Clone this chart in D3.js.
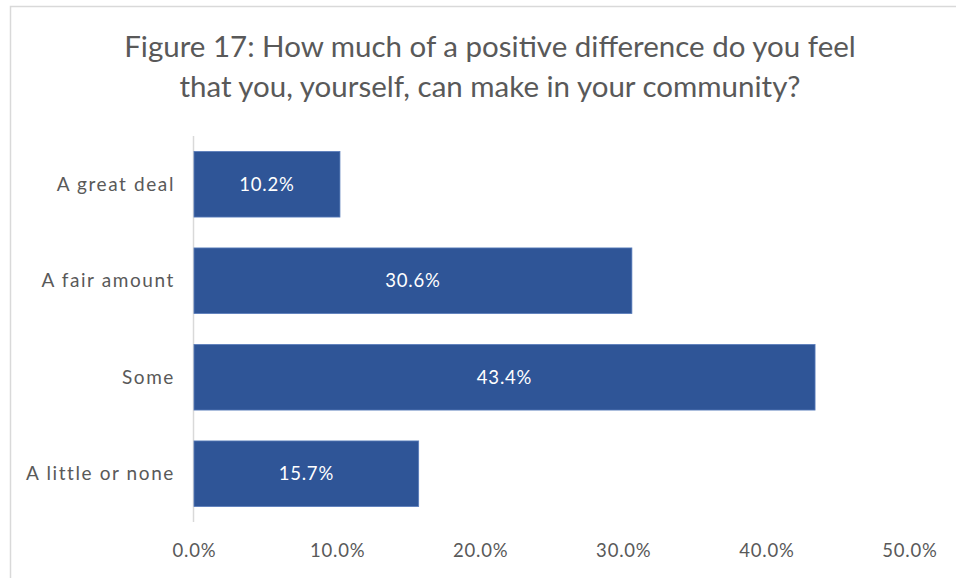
<!DOCTYPE html>
<html>
<head>
<meta charset="utf-8">
<script src="https://cdn.jsdelivr.net/npm/d3@7"></script>
<style>
  html, body { margin: 0; padding: 0; background: #fff; }
  svg { display: block; font-family: Lato, "Open Sans", sans-serif; }
</style>
</head>
<body>
<svg id="chart" width="956" height="578"></svg>
<script>
// Survey responses, share of respondents
const categories = ["A great deal", "A fair amount", "Some", "A little or none"];
const values = [10.2, 30.6, 43.4, 15.7];
const tickValues = [0, 10, 20, 30, 40, 50];
const titleLines = [
  "Figure 17: How much of a positive difference do you feel",
  "that you, yourself, can make in your community?"
];

const svg = d3.select("#chart");
const W = 956, H = 578;
const margin = { top: 136, right: 46, bottom: 56, left: 194 };

// chart frame (top and left edges visible)
svg.append("path")
  .attr("d", `M10.5,${H} L10.5,6.5 L${W},6.5`)
  .attr("fill", "none")
  .attr("stroke", "#d9d9d9")
  .attr("stroke-width", 1.5);

// title
svg.append("g").selectAll("text")
  .data(titleLines)
  .join("text")
  .attr("x", 490)
  .attr("y", (d, i) => 57 + i * 40)
  .attr("text-anchor", "middle")
  .attr("fill", "#595959")
  .attr("font-size", 29.5)
  .text(d => d);

const x = d3.scaleLinear()
  .domain([0, 50])
  .range([margin.left, margin.left + 715.5]);

const y = d3.scaleBand()
  .domain(categories)
  .range([margin.top, H - margin.bottom])
  .paddingInner(0.32)
  .paddingOuter(0.16);

// x axis labels only (no gridlines, no axis line)
const xAxis = d3.axisBottom(x)
  .tickValues(tickValues)
  .tickFormat(d => d.toFixed(1) + "%")
  .tickSize(0)
  .tickPadding(0);

const gx = svg.append("g")
  .attr("transform", `translate(0,${H - margin.bottom + 22})`)
  .call(xAxis);
gx.select(".domain").remove();
gx.selectAll("text")
  .attr("fill", "#595959")
  .attr("font-size", 18.5)
  .attr("letter-spacing", 0.8)
  .attr("font-family", "Lato, sans-serif");

// category axis line
svg.append("line")
  .attr("x1", x(0) - 0.5).attr("x2", x(0) - 0.5)
  .attr("y1", margin.top).attr("y2", H - margin.bottom)
  .attr("stroke", "#d9d9d9")
  .attr("stroke-width", 1.5);

// category labels
svg.append("g").selectAll("text")
  .data(categories)
  .join("text")
  .attr("x", 175)
  .attr("y", d => y(d) + y.bandwidth() / 2)
  .attr("dy", "0.35em")
  .attr("text-anchor", "end")
  .attr("fill", "#595959")
  .attr("font-size", 19)
  .attr("letter-spacing", 1.6)
  .text(d => d);

const data = categories.map((c, i) => ({ cat: c, val: values[i] }));

// bars
svg.append("g").selectAll("rect")
  .data(data)
  .join("rect")
  .attr("x", x(0))
  .attr("y", d => y(d.cat))
  .attr("width", d => x(d.val) - x(0))
  .attr("height", y.bandwidth())
  .attr("fill", "#2F5597")
  .attr("stroke", "#5a7dbb")
  .attr("stroke-width", 0.8);

// value labels centred in each bar
svg.append("g").selectAll("text")
  .data(data)
  .join("text")
  .attr("x", d => (x(0) + x(d.val)) / 2)
  .attr("y", d => y(d.cat) + y.bandwidth() / 2)
  .attr("dy", "0.35em")
  .attr("text-anchor", "middle")
  .attr("fill", "#ffffff")
  .attr("font-size", 18.5)
  .attr("letter-spacing", 0.8)
  .text(d => d.val.toFixed(1) + "%");
</script>
</body>
</html>
